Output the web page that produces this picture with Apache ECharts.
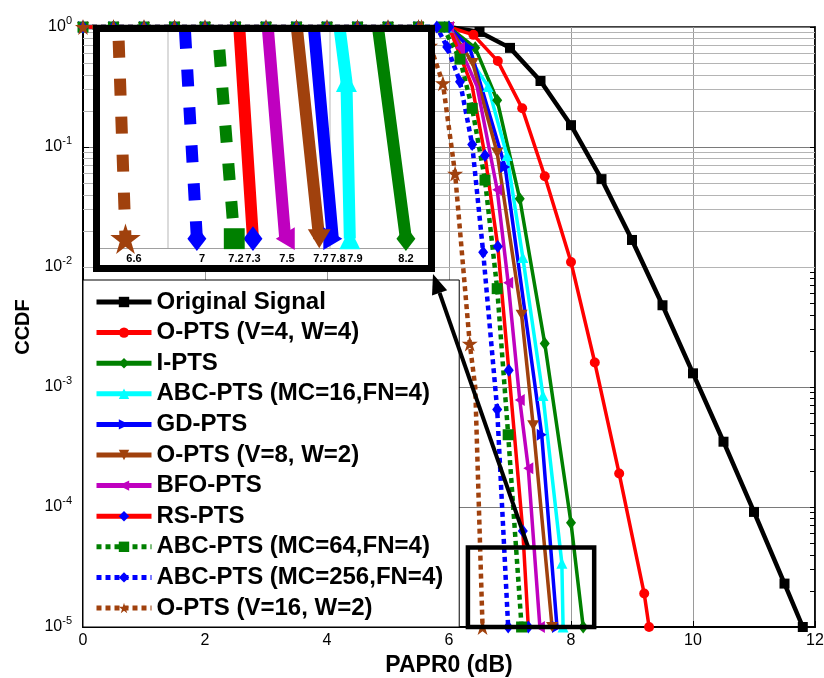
<!DOCTYPE html>
<html><head><meta charset="utf-8">
<script src="https://cdn.jsdelivr.net/npm/echarts@6/dist/echarts.min.js"></script>
<style>html,body{margin:0;padding:0;background:#fff}#c{width:824px;height:678px}</style>
</head><body><div id="c"></div>
<script>
const FONT = "'Liberation Sans', Arial, Helvetica, sans-serif";

// ---------------- data ----------------
const seriesNames = ['Original Signal', 'O-PTS (V=4, W=4)', 'I-PTS', 'ABC-PTS (MC=16,FN=4)', 'GD-PTS',
  'O-PTS (V=8, W=2)', 'BFO-PTS', 'RS-PTS', 'ABC-PTS (MC=64,FN=4)', 'ABC-PTS (MC=256,FN=4)', 'O-PTS (V=16, W=2)'];

const plateauX = [0, 0.5, 1, 1.5, 2, 2.5, 3, 3.5, 4, 4.5, 5, 5.5];
const plateauY = [1, 1, 1, 1, 1, 1, 1, 1, 1, 1, 1, 1];

const origX = [6, 6.5, 7, 7.5, 8, 8.5, 9, 9.5, 10, 10.5, 11, 11.5, 11.8];
const origY = [1, 0.91, 0.67, 0.355, 0.152, 0.054, 0.0168, 0.0048, 0.0013, 3.5e-4, 9.1e-5, 2.3e-5, 1e-5];
const optsV4X = [6, 6.4, 6.8, 7.2, 7.57, 8.0, 8.39, 8.79, 9.2, 9.28];
const optsV4Y = [1, 0.86, 0.52, 0.21, 0.057, 0.011, 1.6e-3, 1.9e-4, 1.9e-5, 1e-5];
const iptsX = [6, 6.43, 6.79, 7.16, 7.57, 8.0, 8.2];
const iptsY = [1, 0.67, 0.245, 0.037, 2.3e-3, 7.4e-5, 1e-5];
const abc16X = [6, 6.64, 6.95, 7.21, 7.54, 7.85, 7.87];
const abc16Y = [1, 0.32, 0.085, 0.012, 8.5e-4, 3.4e-5, 1e-5];
const gdX = [6, 6.34, 6.92, 7.52, 7.77];
const gdY = [1, 0.67, 0.068, 4e-4, 1e-5];
const optsV8X = [6, 6.39, 6.79, 7.19, 7.38, 7.69];
const optsV8Y = [1, 0.5, 0.089, 4e-3, 4.8e-4, 1e-5];
const bfoX = [6, 6.18, 6.46, 6.79, 6.97, 7.16, 7.3, 7.49];
const bfoY = [1, 0.67, 0.32, 0.044, 7.4e-3, 7.8e-4, 2.1e-4, 1e-5];
const rsX = [6, 6.38, 6.59, 6.8, 6.98, 7.21, 7.3];
const rsY = [1, 0.32, 0.085, 0.0148, 1.38e-3, 6.3e-5, 1e-5];
const abc64X = [5.9, 6.18, 6.38, 6.59, 6.79, 6.97, 7.19];
const abc64Y = [1, 0.54, 0.21, 0.053, 6.6e-3, 4e-4, 1e-5];
const abc256X = [5.8, 5.97, 6.18, 6.38, 6.56, 6.79, 6.97];
const abc256Y = [1, 0.68, 0.35, 0.105, 0.0133, 6.5e-4, 1e-5];
const optsV16X = [5.55, 5.69, 5.9, 6.1, 6.34, 6.43, 6.49, 6.55];
const optsV16Y = [1, 0.7, 0.34, 0.06, 2.3e-3, 1e-3, 1e-4, 1e-5];

const insetTickLabels = [6.6, 7, 7.2, 7.3, 7.5, 7.7, 7.8, 7.9, 8.2];
const zoomBoxX = [6.31, 8.38];
const zoomBoxY = [1e-5, 4.6e-5];
const arrowFromX = 7.3;
const insetGridX = [6.8, 7.75];
const insetGridY = [1e-5, 2e-5, 3e-5, 4e-5];

const tails = [[origX, origY], [optsV4X, optsV4Y], [iptsX, iptsY], [abc16X, abc16Y], [gdX, gdY],
  [optsV8X, optsV8Y], [bfoX, bfoY], [rsX, rsY], [abc64X, abc64Y], [abc256X, abc256Y], [optsV16X, optsV16Y]];

// ---------------- styles ----------------
const BROWN = '#A0410D', MAG = '#BF00BF';
const TRI_R = 'path://M0,0L10,5L0,10Z';
const TRI_L = 'path://M10,0L0,5L10,10Z';
const TRI_D = 'path://M0,0L10,0L5,10Z';
const STAR = 'path://M50,0L61.2,34.5L97.6,34.5L68.2,55.9L79.4,90.5L50,69.1L20.6,90.5L31.8,55.9L2.4,34.5L38.8,34.5Z';
const looks = [
  { line: '#000000', mark: '#000000', sym: 'rect', size: [10, 10], w: 4.5, plain: [] },
  { line: '#FF0000', mark: '#FF0000', sym: 'circle', size: [10, 10], w: 3.5, plain: [] },
  { line: '#008000', mark: '#008000', sym: 'diamond', size: [10, 13], w: 3.5, plain: [] },
  { line: '#00FFFF', mark: '#00FFFF', sym: 'triangle', size: [11, 11], w: 3.5, plain: [] },
  { line: '#0000FF', mark: '#0000FF', sym: TRI_R, size: [10, 12], w: 3.5, plain: [] },
  { line: BROWN, mark: BROWN, sym: TRI_D, size: [12, 10], w: 3.5, plain: [] },
  { line: MAG, mark: MAG, sym: TRI_L, size: [10, 12], w: 3.5, plain: [2] },
  { line: '#FF0000', mark: '#0000FF', sym: 'diamond', size: [10, 13], w: 3.5, plain: [1] },
  { line: '#008000', mark: '#008000', sym: 'rect', size: [11, 11], w: 4.5, dash: [5, 4], plain: [] },
  { line: '#0000FF', mark: '#0000FF', sym: 'diamond', size: [10, 13], w: 4.5, dash: [5, 4], plain: [] },
  { line: BROWN, mark: BROWN, sym: STAR, size: [16, 16], w: 4.5, dash: [5, 4], plain: [5, 6] }
];

function mkData(tx, ty, plain) {
  const xs = plateauX.concat(tx), ys = plateauY.concat(ty);
  return xs.map((x, i) => {
    const item = { value: [x, ys[i]] };
    if (plain.indexOf(i - plateauX.length) >= 0) item.symbol = 'none';
    return item;
  });
}

// minor log grid values (axis decoration)
const minorVals = [];
for (let d = -5; d < 0; d++) for (let m = 2; m <= 9; m++) minorVals.push(+(m * Math.pow(10, d)).toPrecision(3));
const majorVals = [1e-5, 1e-4, 1e-3, 1e-2, 1e-1, 1];

const INSET = { left: 100, top: 32, width: 328, height: 216 };

const series = [];
seriesNames.forEach((name, i) => {
  const lk = looks[i];
  const s = {
    name, type: 'line', xAxisIndex: 0, yAxisIndex: 0, clip: false, z: 2,
    data: mkData(tails[i][0], tails[i][1], lk.plain),
    symbol: lk.sym, symbolSize: lk.size, showSymbol: true,
    lineStyle: { color: lk.line, width: lk.w, type: lk.dash || 'solid', cap: 'butt' },
    itemStyle: { color: lk.mark, borderWidth: 0 },
    emphasis: { disabled: true }, silent: true
  };
  if (i === 0) {
    s.markLine = {
      silent: true, z: 1, symbol: ['none', 'none'], label: { show: false }, animation: false,
      lineStyle: { color: '#b4b4b4', width: 1, type: 'solid' },
      data: minorVals.map(v => ({ yAxis: v }))
    };
  }
  series.push(s);
});
// inset copies
seriesNames.forEach((name, i) => {
  if (i < 2) return;
  const lk = looks[i];
  const s = {
    name: 'inset ' + name, type: 'line', xAxisIndex: 1, yAxisIndex: 2, clip: true, z: 10,
    data: mkData(tails[i][0], tails[i][1], lk.plain),
    symbol: lk.sym, symbolSize: lk.size.map(v => v * 1.9), showSymbol: true,
    lineStyle: { color: lk.line, width: 12, type: lk.dash ? [17, 21] : 'solid', cap: 'butt' },
    itemStyle: { color: lk.mark, borderWidth: 0 },
    emphasis: { disabled: true }, silent: true
  };
  if (i === 2) {
    s.markLine = {
      silent: true, z: 7, symbol: ['none', 'none'], label: { show: false }, animation: false,
      lineStyle: { color: '#cfcfcf', width: 1.5, type: 'solid' },
      data: insetGridY.map(v => ({ yAxis: v })).concat(insetGridX.map(v => ({ xAxis: v })))
    };
  }
  series.push(s);
});

const chart = echarts.init(document.getElementById('c'), null, { renderer: 'canvas' });
const option = {
  animation: false,
  backgroundColor: '#ffffff',
  grid: [
    { left: 83, top: 27, width: 732, height: 600, show: true, borderColor: '#000', borderWidth: 1.5,
      containLabel: false, outerBoundsMode: 'none' },
    { left: INSET.left, top: INSET.top, width: INSET.width, height: INSET.height, show: false,
      containLabel: false, outerBoundsMode: 'none' }
  ],
  xAxis: [
    { type: 'value', gridIndex: 0, min: 0, max: 12, interval: 2,
      name: 'PAPR0 (dB)', nameLocation: 'middle', nameGap: 23,
      nameTextStyle: { fontFamily: FONT, fontWeight: 'bold', fontSize: 23, color: '#000' },
      axisLine: { show: true, onZero: false, lineStyle: { color: '#000', width: 2 } },
      axisTick: { show: true, inside: true, length: 6, lineStyle: { color: '#000' } },
      axisLabel: { fontFamily: FONT, fontSize: 16, color: '#000', margin: 6 },
      splitLine: { show: true, lineStyle: { color: '#9a9a9a', width: 1 } } },
    { type: 'value', gridIndex: 1, min: 6.4, max: 8.33, z: 6,
      axisLine: { show: true, onZero: false, lineStyle: { color: '#a0a0a0', width: 1 } },
      axisTick: { show: false },
      axisLabel: { customValues: insetTickLabels, fontFamily: FONT, fontWeight: 'bold', fontSize: 11,
        color: '#000', margin: 5, formatter: v => String(v) },
      splitLine: { show: false } }
  ],
  yAxis: [
    { type: 'log', logBase: 10, gridIndex: 0, min: 1e-5, max: 1, position: 'left',
      name: 'CCDF', nameLocation: 'middle', nameGap: 50, nameRotate: 90,
      nameTextStyle: { fontFamily: FONT, fontWeight: 'bold', fontSize: 20, color: '#000' },
      axisLine: { show: true, onZero: false, lineStyle: { color: '#000', width: 2 } },
      axisTick: { show: true, inside: true, length: 6, lineStyle: { color: '#000' } },
      axisLabel: { fontFamily: FONT, color: '#000', margin: 11,
        formatter: v => '{b|10}{s|' + Math.round(Math.log10(v)) + '}',
        rich: { b: { fontFamily: FONT, fontSize: 16, color: '#000' },
                s: { fontFamily: FONT, fontSize: 11, color: '#000', padding: [0, 0, 12, 0] } } },
      splitLine: { show: true, lineStyle: { color: '#7a7a7a', width: 1 } } },
    { type: 'log', logBase: 10, gridIndex: 0, min: 1e-5, max: 1, position: 'right',
      axisLine: { show: true, onZero: false, lineStyle: { color: '#000', width: 1.5 } },
      axisTick: { show: true, inside: true, length: 5, customValues: minorVals.concat(majorVals), lineStyle: { color: '#000' } },
      axisLabel: { show: false }, splitLine: { show: false } },
    { type: 'log', logBase: 10, gridIndex: 1, min: 9.3e-6, max: 5e-5, z: 6,
      axisLine: { show: false }, axisTick: { show: false }, axisLabel: { show: false }, splitLine: { show: false } }
  ],
  legend: {
    data: seriesNames, orient: 'vertical', left: 83, top: 280,
    itemWidth: 55, itemHeight: 13, itemGap: 6.6,
    padding: [10, 16, 7, 11], backgroundColor: '#ffffff', borderColor: '#000', borderWidth: 1, borderRadius: 0,
    lineStyle: { width: 5 },
    textStyle: { fontFamily: FONT, fontWeight: 'bold', fontSize: 24, color: '#000', lineHeight: 24 },
    selectedMode: false, z: 4
  },
  series
};
chart.setOption(option);

// annotation: zoom box, arrow, inset frame
const tl = chart.convertToPixel({ seriesIndex: 0 }, [zoomBoxX[0], zoomBoxY[1]]);
const br = chart.convertToPixel({ seriesIndex: 0 }, [zoomBoxX[1], zoomBoxY[0]]);
const a0 = chart.convertToPixel({ seriesIndex: 0 }, [arrowFromX, zoomBoxY[1]]);
const tip = [INSET.left + INSET.width + 5, INSET.top + INSET.height + 26];
const dx = tip[0] - a0[0], dy = tip[1] - a0[1], len = Math.hypot(dx, dy);
const ux = dx / len, uy = dy / len;
const base = [tip[0] - ux * 20, tip[1] - uy * 20];
const px = -uy * 8, py = ux * 8;

chart.setOption({
  graphic: [
    { type: 'rect', z: 5, silent: true,
      shape: { x: INSET.left - 7, y: INSET.top - 7, width: INSET.width + 14, height: INSET.height + 31 },
      style: { fill: '#ffffff' } },
    { type: 'rect', z: 12, silent: true,
      shape: { x: INSET.left - 3.5, y: INSET.top - 3.5, width: INSET.width + 7, height: INSET.height + 24 },
      style: { fill: 'none', stroke: '#000', lineWidth: 7 } },
    { type: 'rect', z: 15, silent: true,
      shape: { x: tl[0], y: tl[1], width: br[0] - tl[0], height: br[1] - tl[1] },
      style: { fill: 'none', stroke: '#000', lineWidth: 4.5 } },
    { type: 'line', z: 15, silent: true,
      shape: { x1: a0[0], y1: a0[1], x2: base[0], y2: base[1] },
      style: { stroke: '#000', lineWidth: 4 } },
    { type: 'polygon', z: 15, silent: true,
      shape: { points: [tip, [base[0] + px, base[1] + py], [base[0] - px, base[1] - py]] },
      style: { fill: '#000' } }
  ]
});
</script></body></html>
